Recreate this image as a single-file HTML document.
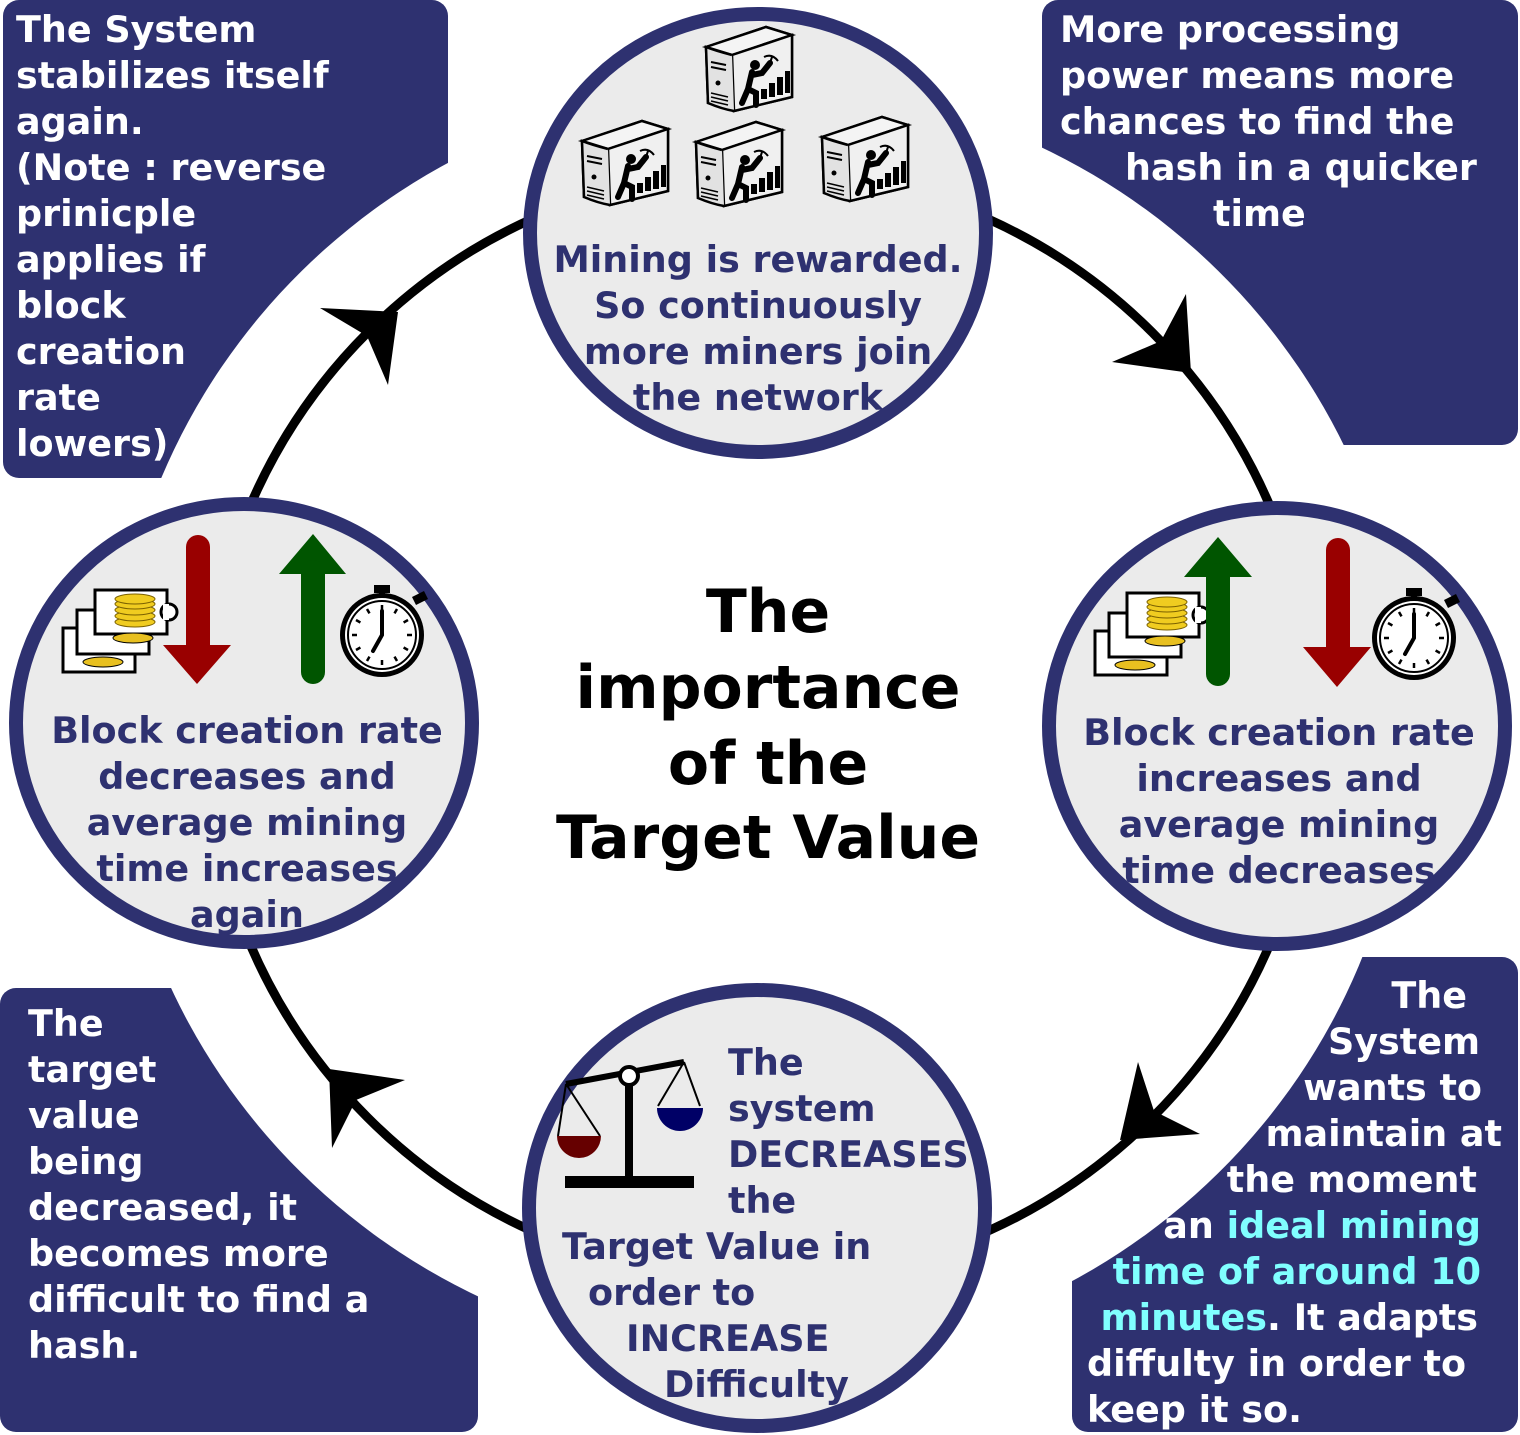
<!DOCTYPE html>
<html><head><meta charset="utf-8"><style>
html,body{margin:0;padding:0;background:#fff}
svg{display:block}
text{font-family:"DejaVu Sans","Liberation Sans",sans-serif;font-weight:bold}
.n{fill:#2e3170;font-size:36.5px}
.w{fill:#fff;font-size:36.5px}
</style></head><body>
<svg width="1520" height="1435" viewBox="0 0 1520 1435" xmlns="http://www.w3.org/2000/svg">
<defs>
<g id="srv">
 <path d="M2,20 L62,0 L88,8 L88,70 L30,84 L4,76 Z" fill="#ddd" stroke="#000" stroke-width="2.5"/>
 <path d="M2,20 L62,0 L88,8 L28,28 Z" fill="#f4f4f4" stroke="#000" stroke-width="2.5"/>
 <path d="M28,28 L88,8 L88,70 L30,84 Z" fill="#f0f0f0" stroke="#000" stroke-width="2.5"/>
 <path d="M28,28 Q12,24 2,20 L4,76 Q18,82 30,84" fill="#e2e2e2" stroke="#000" stroke-width="2.5"/>
 <line x1="7" y1="35" x2="22" y2="38" stroke="#000" stroke-width="2"/>
 <line x1="7" y1="40" x2="22" y2="43" stroke="#000" stroke-width="2"/>
 <circle cx="14" cy="56" r="2.5" fill="#000"/>
 <line x1="7" y1="66" x2="24" y2="70" stroke="#000" stroke-width="1.5"/>
 <line x1="7" y1="70" x2="24" y2="74" stroke="#000" stroke-width="1.5"/>
 <line x1="7" y1="74" x2="24" y2="78" stroke="#000" stroke-width="1.5"/>
 <circle cx="51" cy="38" r="5" fill="#000"/>
 <path d="M48,45 L44,62 L38,76 M44,62 L52,66 L52,78 M48,48 L58,46 L66,36" stroke="#000" stroke-width="6" fill="none" stroke-linecap="round"/>
 <path d="M60,30 Q68,26 74,34 M68,30 L64,42" stroke="#000" stroke-width="2" fill="none"/>
 <rect x="57" y="62" width="6" height="10" fill="#000"/>
 <rect x="65" y="56" width="6" height="14" fill="#000"/>
 <rect x="73" y="50" width="6" height="18" fill="#000"/>
 <rect x="81" y="44" width="5" height="22" fill="#000"/>
</g>
<g id="coins">
 <rect x="0" y="38" width="72" height="44" fill="#fff" stroke="#000" stroke-width="3"/>
 <rect x="14" y="20" width="72" height="44" fill="#fff" stroke="#000" stroke-width="3"/>
 <rect x="32" y="0" width="72" height="44" fill="#fff" stroke="#000" stroke-width="3"/>
 <circle cx="106" cy="22" r="8" fill="#fff" stroke="#000" stroke-width="3"/>
 <rect x="100" y="14" width="6" height="16" fill="#fff"/>
 <ellipse cx="70" cy="48" rx="20" ry="5" fill="#e8c020" stroke="#000" stroke-width="1"/>
 <ellipse cx="40" cy="72" rx="20" ry="5" fill="#e8c020" stroke="#000" stroke-width="1"/>
 <g fill="#f0cc20" stroke="#7a6000" stroke-width="1">
 <ellipse cx="72" cy="32" rx="20" ry="5"/><ellipse cx="72" cy="26" rx="20" ry="5"/><ellipse cx="72" cy="20" rx="20" ry="5"/><ellipse cx="72" cy="14" rx="20" ry="5"/><ellipse cx="72" cy="9" rx="20" ry="5"/>
 </g>
</g>
<g id="watch">
 <rect x="-8" y="-50" width="16" height="8" fill="#000"/>
 <rect x="-3" y="-44" width="6" height="6" fill="#000"/>
 <circle cx="0" cy="0" r="42" fill="#000"/>
 <circle cx="0" cy="0" r="37" fill="#fff"/>
 <circle cx="0" cy="0" r="34" fill="none" stroke="#000" stroke-width="2"/>
 <path d="M30,-38 l12,-6 l4,8 l-12,6 z" fill="#000"/>
 <g stroke="#000" stroke-width="2.5">
 <line x1="0" y1="-30" x2="0" y2="-25"/><line x1="0" y1="30" x2="0" y2="25"/><line x1="-30" y1="0" x2="-25" y2="0"/><line x1="30" y1="0" x2="25" y2="0"/>
 <line x1="15" y1="-26" x2="12.5" y2="-21.6"/><line x1="26" y1="-15" x2="21.6" y2="-12.5"/><line x1="26" y1="15" x2="21.6" y2="12.5"/><line x1="15" y1="26" x2="12.5" y2="21.6"/>
 <line x1="-15" y1="-26" x2="-12.5" y2="-21.6"/><line x1="-26" y1="-15" x2="-21.6" y2="-12.5"/><line x1="-26" y1="15" x2="-21.6" y2="12.5"/><line x1="-15" y1="26" x2="-12.5" y2="21.6"/>
 </g>
 <path d="M0,-24 L0,0 L-9,16" stroke="#000" stroke-width="4" fill="none" stroke-linecap="round"/>
</g>
</defs>

<!-- corner boxes -->
<rect x="3" y="0" width="445" height="478" rx="16" fill="#2e3170"/>
<rect x="1042" y="0" width="476" height="445" rx="16" fill="#2e3170"/>
<rect x="0" y="988" width="478" height="444" rx="16" fill="#2e3170"/>
<rect x="1072" y="957" width="446" height="475" rx="16" fill="#2e3170"/>
<ellipse cx="760" cy="722" rx="648" ry="638" fill="#fff"/>

<!-- ring -->
<circle cx="760" cy="725" r="555" fill="none" stroke="#000" stroke-width="9"/>
<polygon points="1191,373 1186,294 1161,341 1112,362" fill="#000"/>
<polygon points="1120,1140 1138,1062 1154,1111 1200,1134" fill="#000"/>
<polygon points="329,1069 405,1080 356,1100 332,1148" fill="#000"/>
<polygon points="398,312 320,308 367,336 388,385" fill="#000"/>

<!-- nodes -->
<ellipse cx="758" cy="233" rx="228" ry="219" fill="#ebebeb" stroke="#2e3170" stroke-width="14"/>
<ellipse cx="1277" cy="726" rx="228" ry="218" fill="#ebebeb" stroke="#2e3170" stroke-width="14"/>
<ellipse cx="244" cy="723" rx="228" ry="219" fill="#ebebeb" stroke="#2e3170" stroke-width="14"/>
<ellipse cx="757" cy="1208" rx="228" ry="218" fill="#ebebeb" stroke="#2e3170" stroke-width="14"/>

<!-- servers -->
<use href="#srv" x="704" y="27"/>
<use href="#srv" x="580" y="121"/>
<use href="#srv" x="694" y="122"/>
<use href="#srv" x="820" y="117"/>

<!-- left icons -->
<use href="#coins" x="63" y="590"/>
<line x1="198" y1="547" x2="198" y2="645" stroke="#990000" stroke-width="24" stroke-linecap="round"/>
<polygon points="163,645 231,645 197,684" fill="#990000"/>
<polygon points="279,574 346,574 313,534" fill="#005500"/>
<line x1="313" y1="572" x2="313" y2="672" stroke="#005500" stroke-width="24" stroke-linecap="round"/>
<use href="#watch" x="382" y="635"/>

<!-- right icons -->
<use href="#coins" x="1095" y="593"/>
<polygon points="1184,577 1252,577 1218,537" fill="#005500"/>
<line x1="1218" y1="575" x2="1218" y2="674" stroke="#005500" stroke-width="24" stroke-linecap="round"/>
<line x1="1338" y1="550" x2="1338" y2="648" stroke="#990000" stroke-width="24" stroke-linecap="round"/>
<polygon points="1303,647 1371,647 1337,687" fill="#990000"/>
<use href="#watch" x="1414" y="638"/>

<!-- scale -->
<rect x="565" y="1176" width="129" height="12" fill="#000"/>
<rect x="625" y="1072" width="8" height="106" fill="#000"/>
<line x1="566" y1="1084" x2="684" y2="1062" stroke="#000" stroke-width="6"/>
<circle cx="629" cy="1076" r="9" fill="#fff" stroke="#000" stroke-width="4"/>
<path d="M566,1084 L558,1136 M566,1084 L600,1136 M684,1062 L658,1106 M684,1062 L700,1106" stroke="#000" stroke-width="2" fill="none"/>
<path d="M557,1136 L601,1136 A22,22 0 0 1 557,1136 Z" fill="#660000"/>
<path d="M657,1108 L703,1108 A23,23 0 0 1 657,1108 Z" fill="#000066"/>

<!-- node texts -->
<g class="n" text-anchor="middle">
<text x="758" y="272">Mining is rewarded.</text>
<text x="758" y="318">So continuously</text>
<text x="758" y="364">more miners join</text>
<text x="758" y="410">the network</text>
<text x="247" y="743">Block creation rate</text>
<text x="247" y="789">decreases and</text>
<text x="247" y="835">average mining</text>
<text x="247" y="881">time increases</text>
<text x="247" y="927">again</text>
<text x="1279" y="745">Block creation rate</text>
<text x="1279" y="791">increases and</text>
<text x="1279" y="837">average mining</text>
<text x="1279" y="883">time decreases</text>
</g>
<g class="n">
<text x="728" y="1075">The</text>
<text x="728" y="1121">system</text>
<text x="728" y="1167">DECREASES</text>
<text x="728" y="1213">the</text>
<text x="562" y="1259">Target Value in</text>
<text x="588" y="1305">order to</text>
<text x="626" y="1351">INCREASE</text>
<text x="664" y="1397">Difficulty</text>
</g>

<!-- center title -->
<g text-anchor="middle" style="font-size:60px" fill="#000">
<text x="768" y="632">The</text>
<text x="768" y="708">importance</text>
<text x="768" y="784">of the</text>
<text x="768" y="858">Target Value</text>
</g>

<!-- corner texts -->
<g class="w">
<text x="16" y="42">The System</text>
<text x="16" y="88">stabilizes itself</text>
<text x="16" y="134">again.</text>
<text x="16" y="180">(Note : reverse</text>
<text x="16" y="226">prinicple</text>
<text x="16" y="272">applies if</text>
<text x="16" y="318">block</text>
<text x="16" y="364">creation</text>
<text x="16" y="410">rate</text>
<text x="16" y="456">lowers)</text>

<text x="1060" y="42">More processing</text>
<text x="1060" y="88">power means more</text>
<text x="1060" y="134">chances to find the</text>
<text x="1125" y="180">hash in a quicker</text>
<text x="1213" y="226">time</text>

<text x="28" y="1036">The</text>
<text x="28" y="1082">target</text>
<text x="28" y="1128">value</text>
<text x="28" y="1174">being</text>
<text x="28" y="1220">decreased, it</text>
<text x="28" y="1266">becomes more</text>
<text x="28" y="1312">difficult to find a</text>
<text x="28" y="1358">hash.</text>
</g>
<g class="w" text-anchor="end">
<text x="1467" y="1008">The</text>
<text x="1480" y="1054">System</text>
<text x="1482" y="1100">wants to</text>
<text x="1502" y="1146">maintain at</text>
<text x="1477" y="1192">the moment</text>
<text x="1481" y="1238">an <tspan fill="#80ffff">ideal mining</tspan></text>
<text x="1481" y="1284" fill="#80ffff">time of around 10</text>
<text x="1478" y="1330"><tspan fill="#80ffff">minutes</tspan>. It adapts</text>
</g>
<g class="w">
<text x="1087" y="1376">diffulty in order to</text>
<text x="1087" y="1422">keep it so.</text>
</g>
</svg>
</body></html>
